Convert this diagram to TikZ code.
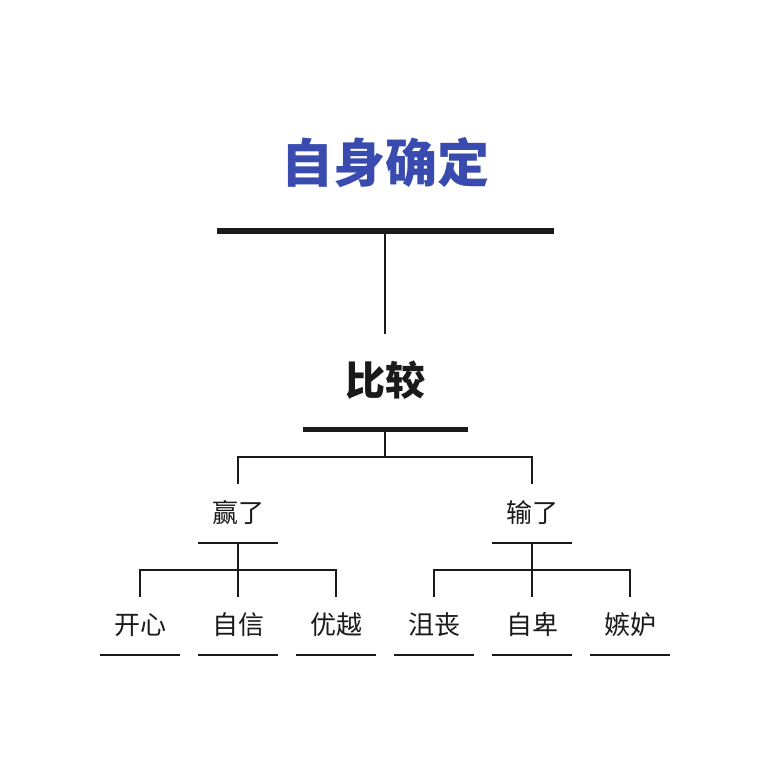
\documentclass[tikz,border=0pt]{standalone}
\usepackage{fontspec}
\usepackage{xcolor}
\newfontfamily\cjk{Noto Sans CJK SC}
\definecolor{ink}{HTML}{1A1A1A}
\definecolor{titleblue}{HTML}{3A4BAF}
\tikzset{
    tnode/.style = {align=center, inner sep=0pt, text centered},
    title/.style = {tnode, text=titleblue, font=\cjk\bfseries\fontsize{52}{62}\selectfont},
    head/.style = {tnode, text=ink, font=\cjk\bfseries\fontsize{40}{48}\selectfont},
    leaf/.style = {tnode, text=ink, font=\cjk\fontsize{26}{31}\selectfont},
    bar/.style = {rectangle, inner sep=0pt, fill=ink, minimum height=6pt},
    rule/.style = {rectangle, inner sep=0pt, fill=ink, minimum width=80pt, minimum height=2pt},
    wire/.style = {draw=ink, line width=2pt}
}
\begin{document}
\begin{tikzpicture}[x=1pt, y=-1pt]
    \useasboundingbox (0,0) rectangle (770,756);

    % top
    \node [title] (self) at (385,163) {自身确定};
    \coordinate (cmptop) at (385,334);
    \draw [wire] (385,231) coordinate (selfmid) -- (cmptop);
    \node [bar, minimum width=337pt] (selfbar) at (selfmid) {};

    % middle
    \node [head] (cmp) at (385,380) {比较};
    \coordinate (wintop) at (238,484);
    \coordinate (losetop) at (532,484);
    \draw [wire] (385,429) coordinate (cmpmid) -- ++(0,28) coordinate (cmpfork) -| (wintop);
    \draw [wire] (cmpfork) -| (losetop);
    \node [bar, minimum width=165pt, minimum height=5pt] (cmpbar) at (cmpmid) {};

    % win / lose
    \node [leaf] (win) at (238,513) {赢了};
    \node [rule] (winbar) at (238,543) {};
    \node [leaf] (lose) at (532,513) {输了};
    \node [rule] (losebar) at (532,543) {};

    % leaves
    \foreach \name/\x/\txt/\parent in {happy/140/开心/win, sure/238/自信/win, proud/336/优越/win,
                                      sad/434/沮丧/lose, low/532/自卑/lose, envy/630/嫉妒/lose} {
        \coordinate (\name top) at (\x,597);
        \draw [wire] (\parent bar.center) -- ++(0,27) -| (\name top);
        \node [leaf] (\name) at (\x,625) {\txt};
        \node [rule] (\name bar) at (\x,655) {};
    }
\end{tikzpicture}
\end{document}
